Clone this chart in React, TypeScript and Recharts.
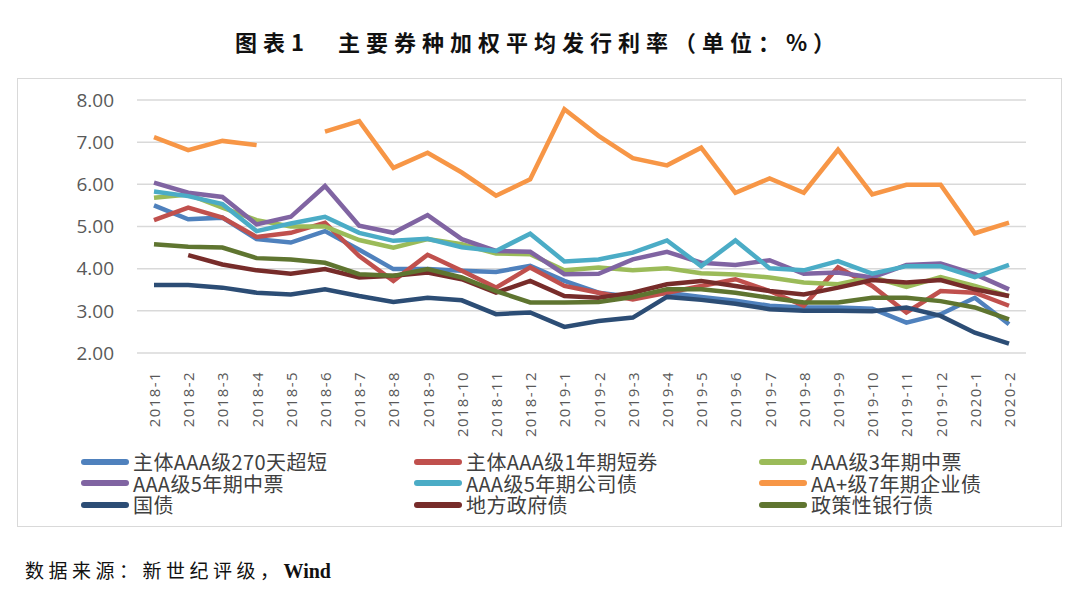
import { LineChart, Line, XAxis, YAxis, CartesianGrid, Legend } from "recharts";

const months = [
  "2018-1", "2018-2", "2018-3", "2018-4", "2018-5", "2018-6", "2018-7", "2018-8", "2018-9", "2018-10", "2018-11", "2018-12",
  "2019-1", "2019-2", "2019-3", "2019-4", "2019-5", "2019-6", "2019-7", "2019-8", "2019-9", "2019-10", "2019-11", "2019-12",
  "2020-1", "2020-2",
];

const cp270 = [5.5, 5.17, 5.21, 4.7, 4.62, 4.89, 4.45, 3.99, 3.99, 3.95, 3.92, 4.07, 3.71, 3.43, 3.33, 3.43, 3.33, 3.24, 3.12, 3.08, 3.08, 3.05, 2.72, 2.92, 3.31, 2.68];
const cp1y = [5.15, 5.45, 5.21, 4.75, 4.85, 5.09, 4.3, 3.71, 4.33, 3.95, 3.55, 4.03, 3.59, 3.43, 3.27, 3.43, 3.59, 3.75, 3.47, 3.12, 4.03, 3.59, 2.96, 3.47, 3.43, 3.12];
const mtn3y = [5.68, 5.76, 5.45, 5.15, 5.0, 5.0, 4.68, 4.5, 4.7, 4.58, 4.36, 4.34, 3.96, 4.03, 3.96, 4.01, 3.89, 3.86, 3.79, 3.67, 3.63, 3.8, 3.57, 3.8, 3.59, 3.35];
const mtn5y = [6.04, 5.8, 5.7, 5.05, 5.23, 5.96, 5.02, 4.85, 5.27, 4.7, 4.42, 4.4, 3.87, 3.88, 4.22, 4.4, 4.14, 4.09, 4.2, 3.88, 3.91, 3.79, 4.09, 4.12, 3.87, 3.51];
const corp5y = [5.83, 5.72, 5.53, 4.89, 5.07, 5.23, 4.85, 4.66, 4.71, 4.51, 4.42, 4.83, 4.17, 4.22, 4.38, 4.67, 4.06, 4.67, 4.01, 3.96, 4.18, 3.88, 4.06, 4.06, 3.8, 4.09];
const ent7y = [7.12, 6.81, 7.03, 6.93, null, 7.25, 7.5, 6.39, 6.75, 6.28, 5.73, 6.12, 7.78, 7.15, 6.62, 6.45, 6.87, 5.8, 6.14, 5.8, 6.82, 5.76, 5.99, 5.99, 4.84, 5.09];
const govt = [3.61, 3.61, 3.55, 3.43, 3.39, 3.51, 3.35, 3.21, 3.31, 3.25, 2.92, 2.96, 2.62, 2.76, 2.84, 3.33, 3.26, 3.17, 3.04, 3.0, 3.0, 2.99, 3.08, 2.88, 2.48, 2.22];
const local = [null, 4.32, 4.1, 3.96, 3.88, 3.99, 3.79, 3.83, 3.91, 3.75, 3.43, 3.71, 3.35, 3.31, 3.43, 3.63, 3.71, 3.59, 3.47, 3.39, 3.55, 3.73, 3.67, 3.73, 3.51, 3.35];
const policy = [4.58, 4.52, 4.5, 4.25, 4.22, 4.14, 3.87, 3.83, 3.99, 3.79, 3.47, 3.2, 3.2, 3.21, 3.33, 3.51, 3.51, 3.43, 3.31, 3.2, 3.2, 3.31, 3.31, 3.23, 3.08, 2.8];

const series = [
  { key: "cp270", name: "主体AAA级270天超短", color: "#4F81BD", values: cp270 },
  { key: "cp1y", name: "主体AAA级1年期短券", color: "#C0504D", values: cp1y },
  { key: "mtn3y", name: "AAA级3年期中票", color: "#9BBB59", values: mtn3y },
  { key: "mtn5y", name: "AAA级5年期中票", color: "#8064A2", values: mtn5y },
  { key: "corp5y", name: "AAA级5年期公司债", color: "#4BACC6", values: corp5y },
  { key: "ent7y", name: "AA+级7年期企业债", color: "#F79646", values: ent7y },
  { key: "govt", name: "国债", color: "#2C4D75", values: govt },
  { key: "local", name: "地方政府债", color: "#772C2A", values: local },
  { key: "policy", name: "政策性银行债", color: "#5F7530", values: policy },
];

const data = months.map((m, i) => {
  const row: Record<string, any> = { month: m };
  series.forEach((s) => {
    row[s.key] = s.values[i];
  });
  return row;
});

const yTicks = [2, 3, 4, 5, 6, 7, 8];

const MonthTick = (props: any) => {
  const { x, y, payload } = props;
  return (
    <text
      x={x + 6}
      y={y + 10}
      transform={`rotate(-90, ${x + 6}, ${y + 10})`}
      textAnchor="end"
      fill="#595959"
      fontSize={15}
      letterSpacing={1.4}
      fontFamily="'Open Sans', sans-serif"
    >
      {payload.value}
    </text>
  );
};

// legend columns, x inside the chart box
const cols = [63, 396, 741];

const LegendBox = () => (
  <div style={{ position: "relative", width: 1045, height: 66 }}>
    {series.map((s, i) => (
      <div
        key={s.key}
        style={{
          position: "absolute",
          left: cols[i % 3],
          top: Math.floor(i / 3) * 21.5,
          height: 21,
          display: "flex",
          alignItems: "center",
          whiteSpace: "nowrap",
        }}
      >
        <span style={{ display: "inline-block", width: 48, height: 6, borderRadius: 3, background: s.color }} />
        <span
          style={{
            display: "inline-block",
            height: 21,
            marginLeft: 4,
            fontSize: 20,
            lineHeight: "21px",
            letterSpacing: 0.4,
            color: "#404040",
            fontFamily: "'Noto Sans CJK SC', sans-serif",
          }}
        >
          {s.name}
        </span>
      </div>
    ))}
  </div>
);

export default function App() {
  return (
    <div style={{ position: "absolute", left: 0, top: 0, width: 1080, height: 589, background: "#fff" }}>
      <div
        style={{
          position: "absolute",
          top: 26,
          left: 0,
          width: 1076,
          textAlign: "center",
          fontSize: 22,
          lineHeight: "30px",
          fontWeight: 700,
          letterSpacing: 6,
          color: "#111",
          fontFamily: "'Noto Sans CJK SC', serif",
        }}
      >
        图表1　主要券种加权平均发行利率（单位：%）
      </div>
      <div
        style={{
          position: "absolute",
          left: 17,
          top: 78,
          width: 1045,
          height: 449,
          border: "1px solid #d9d9d9",
          boxSizing: "border-box",
        }}
      >
        <LineChart width={1045} height={449} data={data} margin={{ top: 21, right: 37, bottom: 90, left: 0 }}>
          <CartesianGrid vertical={false} stroke="#d9d9d9" strokeWidth={1.5} />
          <XAxis
            dataKey="month"
            interval={0}
            tickLine={false}
            axisLine={false}
            height={85}
            padding={{ left: 17, right: 17 }}
            tick={<MonthTick />}
          />
          <YAxis
            width={119}
            domain={[2, 8]}
            ticks={yTicks}
            tickFormatter={(v: number) => v.toFixed(2)}
            tickLine={false}
            axisLine={false}
            tickMargin={17}
            tick={{ fill: "#595959", fontSize: 19, fontFamily: "'Open Sans', sans-serif" }}
          />
          <Legend
            layout="horizontal"
            verticalAlign="middle"
            align="center"
            wrapperStyle={{ top: 372, left: 0, bottom: "auto", width: 1045 }}
            content={() => <LegendBox />}
          />
          {series.map((s) => (
            <Line
              key={s.key}
              type="linear"
              dataKey={s.key}
              name={s.name}
              stroke={s.color}
              strokeWidth={4.5}
              dot={false}
              activeDot={false}
              connectNulls={false}
              isAnimationActive={false}
            />
          ))}
        </LineChart>
      </div>
      <div
        style={{
          position: "absolute",
          left: 25,
          top: 557,
          fontSize: 19,
          lineHeight: "26px",
          letterSpacing: 4.5,
          color: "#111",
          fontFamily: "'Noto Sans CJK SC', serif",
        }}
      >
        数据来源：新世纪评级，
        <span style={{ fontFamily: "'Liberation Serif', serif", fontWeight: 700, fontSize: 20, letterSpacing: 0 }}>Wind</span>
      </div>
    </div>
  );
}
